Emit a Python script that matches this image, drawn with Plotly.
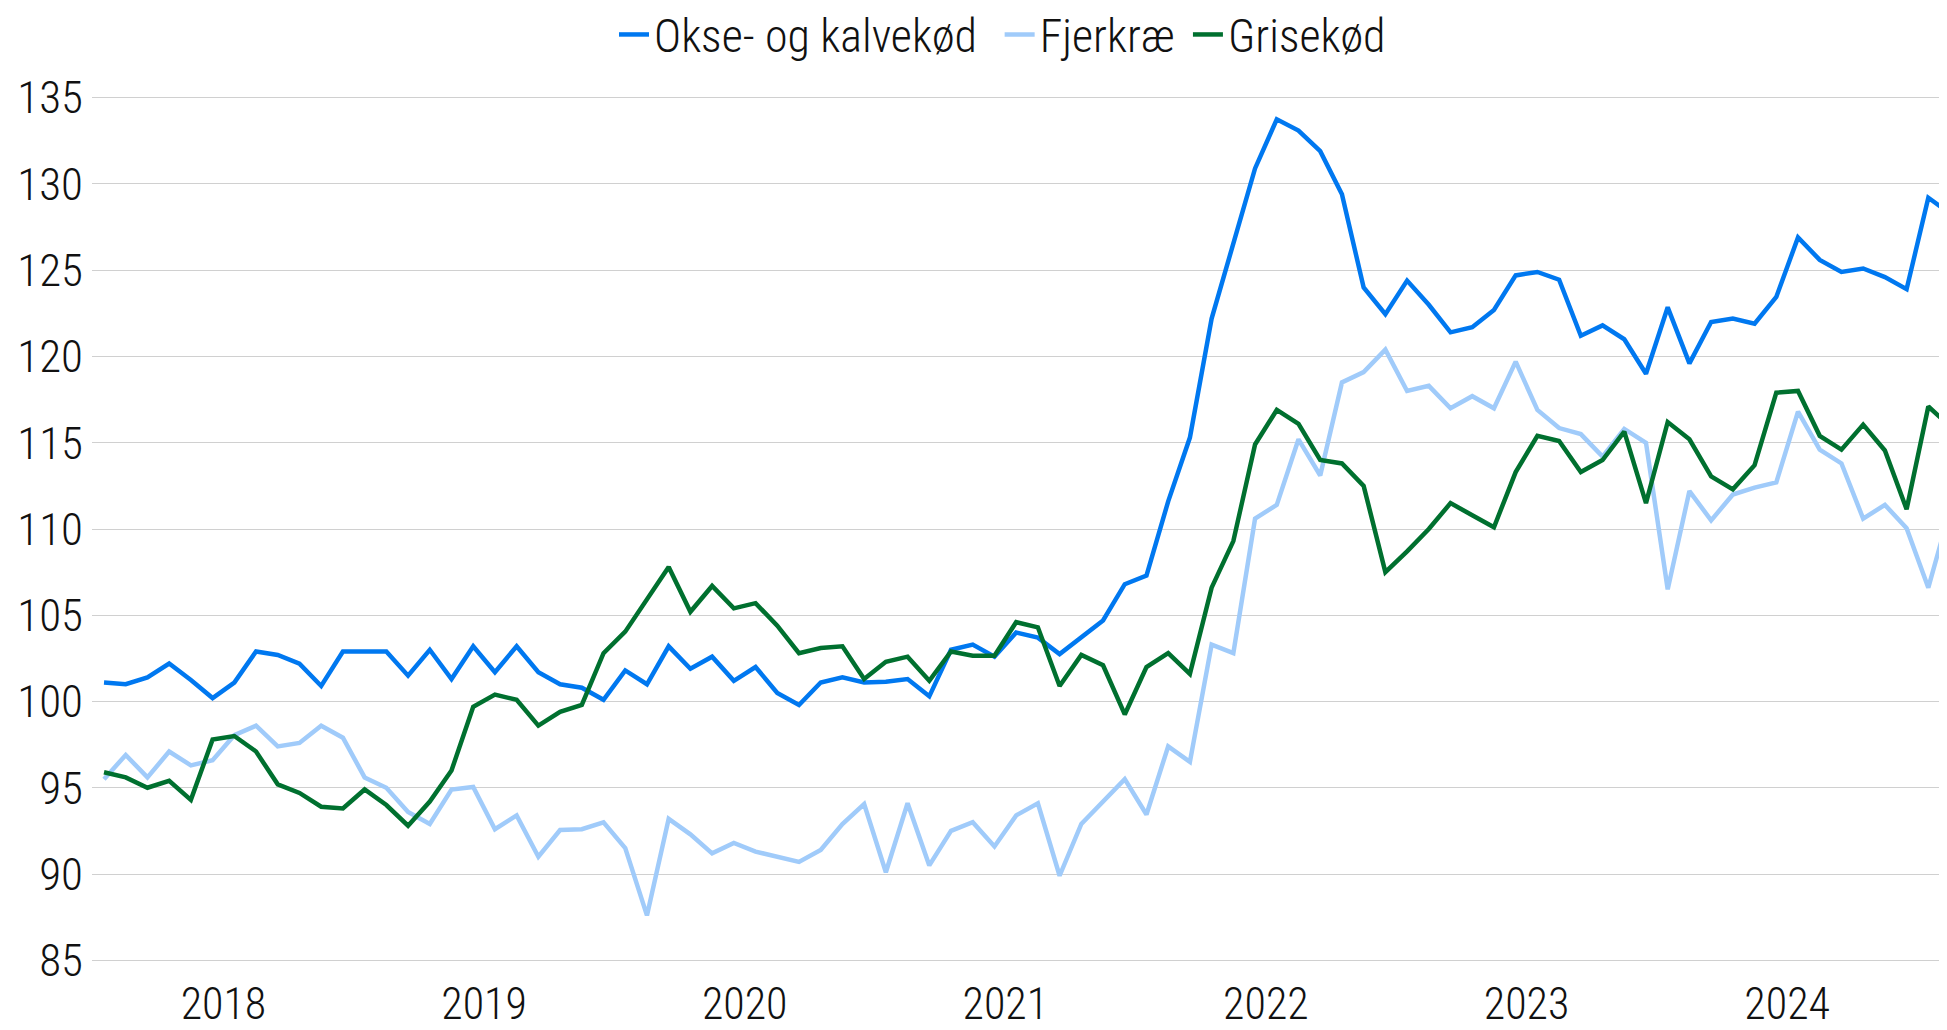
import plotly.graph_objects as go

# Monthly index values, Jan 2018 - Feb 2025
months = [f"{y}-{m:02d}" for y in range(2018, 2026) for m in range(1, 13)][:86]

okse = [101.1, 101.0, 101.4, 102.2, 101.25, 100.2, 101.1, 102.9, 102.7, 102.2, 100.9, 102.9,
        102.9, 102.9, 101.5, 103.0, 101.3, 103.2, 101.7, 103.2, 101.7, 101.0, 100.8, 100.1,
        101.8, 101.0, 103.2, 101.9, 102.6, 101.2, 102.0, 100.5, 99.8, 101.1, 101.4, 101.1,
        101.15, 101.3, 100.3, 103.0, 103.3, 102.6, 104.0, 103.7, 102.75, 103.7, 104.7, 106.8,
        107.3, 111.6, 115.3, 122.2, 126.5, 130.9, 133.75, 133.1, 131.9, 129.4, 124.0, 122.45,
        124.4, 123.0, 121.4, 121.7, 122.7, 124.7, 124.9, 124.45, 121.2, 121.8, 121.0, 119.0,
        122.85, 119.6, 122.0, 122.2, 121.9, 123.45, 126.9, 125.6, 124.9, 125.1, 124.6, 123.9,
        129.2, 128.3]

fjerkrae = [95.5, 96.9, 95.6, 97.1, 96.3, 96.6, 98.05, 98.6, 97.4, 97.6, 98.6, 97.9,
            95.6, 95.0, 93.6, 92.9, 94.9, 95.05, 92.6, 93.4, 91.0, 92.55, 92.6, 93.0,
            91.5, 87.6, 93.2, 92.3, 91.2, 91.8, 91.3, 91.0, 90.7, 91.4, 92.9, 94.05,
            90.1, 94.1, 90.5, 92.5, 93.0, 91.6, 93.4, 94.1, 89.9, 92.9, 94.2, 95.5,
            93.45, 97.4, 96.5, 103.3, 102.8, 110.6, 111.4, 115.2, 113.1, 118.5, 119.1, 120.4,
            118.0, 118.3, 117.0, 117.7, 117.0, 119.7, 116.9, 115.85, 115.5, 114.2, 115.8, 115.0,
            106.5, 112.2, 110.5, 112.0, 112.4, 112.7, 116.8, 114.6, 113.8, 110.6, 111.4, 110.05,
            106.6, 111.1]

grise = [95.9, 95.6, 95.0, 95.4, 94.3, 97.8, 98.0, 97.1, 95.2, 94.7, 93.9, 93.8,
         94.9, 94.0, 92.8, 94.2, 96.0, 99.7, 100.4, 100.1, 98.6, 99.4, 99.8, 102.8,
         104.05, 105.9, 107.8, 105.2, 106.7, 105.4, 105.7, 104.4, 102.8, 103.1, 103.2, 101.3,
         102.3, 102.6, 101.2, 102.9, 102.65, 102.65, 104.6, 104.3, 100.9, 102.7, 102.1, 99.25,
         102.0, 102.8, 101.6, 106.6, 109.3, 114.9, 116.9, 116.1, 114.0, 113.8, 112.5, 107.5,
         108.7, 110.0, 111.5, 110.8, 110.1, 113.3, 115.4, 115.1, 113.3, 114.0, 115.65, 111.5,
         116.2, 115.2, 113.05, 112.3, 113.7, 117.9, 118.0, 115.4, 114.6, 116.05, 114.55, 111.15,
         117.1, 115.95]

year_labels = ["2018", "2019", "2020", "2021", "2022", "2023", "2024"]
y_ticks = [85, 90, 95, 100, 105, 110, 115, 120, 125, 130, 135]

x_idx = list(range(len(months)))
year_pos = [12 * k + 5.5 for k in range(len(year_labels))]

FONT = "Roboto Condensed, Liberation Sans Narrow, DejaVu Sans Condensed, Liberation Sans, sans-serif"

series = [
    ("Okse- og kalvekød", okse, "#0078F0", "legend"),
    ("Fjerkræ", fjerkrae, "#A0CBFA", "legend2"),
    ("Grisekød", grise, "#00702F", "legend3"),
]

fig = go.Figure()
for name, vals, col, leg in series:
    fig.add_trace(go.Scatter(
        x=x_idx, y=vals, mode="lines", name=name, legend=leg,
        line=dict(color=col, width=4.5),
        customdata=months,
        hovertemplate="%{customdata}: %{y}<extra>" + name + "</extra>",
    ))

legend_common = dict(orientation="h", xanchor="left", y=1.1131, yanchor="top",
                     font=dict(size=46, weight=300), itemwidth=30,
                     bgcolor="rgba(0,0,0,0)", borderwidth=0)

# the page body adds an 8px offset, so the figure is 8px smaller than the window
fig.update_layout(
    width=1939, height=1022,
    margin=dict(l=84, r=0, t=88, b=68, autoexpand=False),
    paper_bgcolor="white", plot_bgcolor="white",
    font=dict(family=FONT, size=45, color="#111111", weight=300),
    showlegend=True,
    legend=dict(x=0.2814, **legend_common),
    legend2=dict(x=0.4893, **legend_common),
    legend3=dict(x=0.5908, **legend_common),
)
fig.update_xaxes(
    range=[-0.553, 84.86], tickmode="array", tickvals=year_pos, ticktext=year_labels,
    showgrid=False, zeroline=False, showline=False, ticks="", ticklabelstandoff=12,
    tickfont=dict(size=44), automargin=False,
)
fig.update_yaxes(
    range=[84.9, 135.1], tickmode="array", tickvals=y_ticks,
    showgrid=True, gridcolor="#D0D0D0", gridwidth=1.3, zeroline=False, showline=False,
    ticks="", ticklabelstandoff=8, automargin=False,
)

fig.write_html("out.html")
